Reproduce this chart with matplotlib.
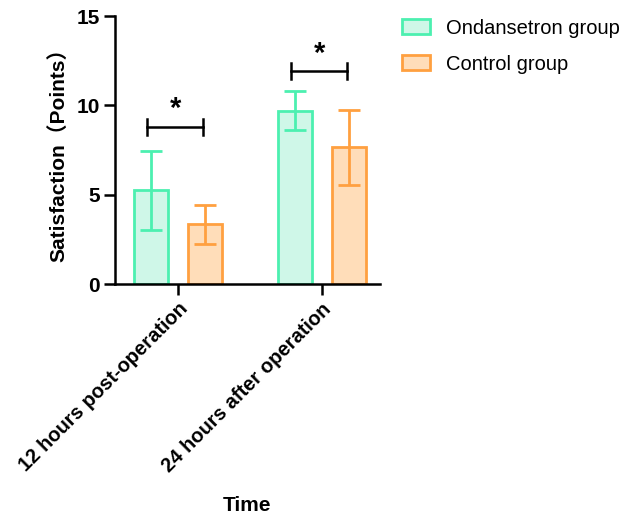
import matplotlib.pyplot as plt
import numpy as np

plt.rcParams['font.family'] = ['Liberation Sans', 'Noto Sans CJK SC', 'DejaVu Sans']

# data
times = ["12 hours post-operation", "24 hours after operation"]
groups = ["Ondansetron group", "Control group"]
ondansetron_mean = [5.25, 9.7]
ondansetron_sd = [2.2, 1.1]
control_mean = [3.35, 7.65]
control_sd = [1.1, 2.1]
sig_heights = [8.8, 11.9]
sig_labels = ["*", "*"]

edge_colors = ['#4CF0B0', '#FFA040']
fill_colors = ['#CFF7E8', '#FFDDB9']

fig = plt.figure(figsize=(6.37, 5.15), dpi=100)
ax = fig.add_axes([0.1805, 0.4485, 0.416, 0.5204])

x = np.arange(len(times))
offset = 0.185
width = 0.235

series = [(ondansetron_mean, ondansetron_sd), (control_mean, control_sd)]
for i, (means, sds) in enumerate(series):
    pos = x + (-offset if i == 0 else offset)
    ax.bar(pos, means, width=width, color=fill_colors[i], edgecolor=edge_colors[i],
           linewidth=2, label=groups[i], zorder=2)
    ax.errorbar(pos, means, yerr=sds, fmt='none', ecolor=edge_colors[i],
                elinewidth=2, capsize=8, capthick=2, zorder=3)

# significance brackets
for i in range(len(times)):
    x0, x1 = x[i] - offset - 0.03, x[i] + offset - 0.01
    h = sig_heights[i]
    ax.plot([x0, x1], [h, h], color='black', lw=1.8, zorder=4)
    ax.plot([x0, x0], [h - 0.45, h + 0.45], color='black', lw=1.8, zorder=4)
    ax.plot([x1, x1], [h - 0.45, h + 0.45], color='black', lw=1.8, zorder=4)
    ax.text((x0 + x1) / 2, h + 0.2, sig_labels[i], ha='center', va='bottom',
            fontsize=21, fontweight='bold')

ax.set_xlim(-0.4375, 1.403)
ax.set_ylim(0, 15)
ax.set_yticks([0, 5, 10, 15])
ax.set_xticks(x)
ax.set_xticklabels(times, rotation=45, ha='right', rotation_mode='anchor',
                   fontsize=14.5, fontweight='bold')
for lbl in ax.get_yticklabels():
    lbl.set_fontsize(15)
    lbl.set_fontweight('bold')

ax.spines['top'].set_visible(False)
ax.spines['right'].set_visible(False)
ax.spines['left'].set_linewidth(1.8)
ax.spines['bottom'].set_linewidth(1.8)
ax.tick_params(axis='both', length=8, width=1.8, direction='out', pad=3)

ax.set_ylabel("Satisfaction（Points）", fontsize=15, fontweight='bold', labelpad=6)
ax.set_xlabel("Time", fontsize=15, fontweight='bold', labelpad=15)

fig.legend(loc='upper left', bbox_to_anchor=(0.631, 0.964), frameon=False,
           fontsize=14.5, handlelength=1.4, handleheight=0.75, labelspacing=0.85,
           handletextpad=0.8, borderpad=0, borderaxespad=0)

fig.savefig('out.png', dpi=100)
